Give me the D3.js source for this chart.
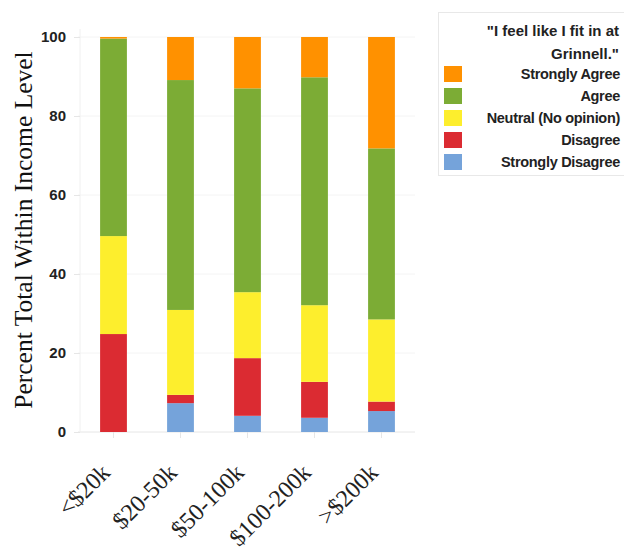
<!DOCTYPE html>
<html>
<head>
<meta charset="utf-8">
<script src="https://cdn.jsdelivr.net/npm/d3@7"></script>
<style>
  body { margin: 0; background: #fff; }
  .tick text { font-family: "Liberation Sans", Arial, sans-serif; font-weight: bold; font-size: 15px; fill: #222; }
  .xlab { font-family: "Liberation Serif", "Times New Roman", serif; font-size: 24px; fill: #222; }
  .ylab { font-family: "Liberation Serif", "Times New Roman", serif; font-size: 25.5px; fill: #111; }
  .leg { font-family: "Liberation Sans", Arial, sans-serif; font-weight: bold; font-size: 14.5px; fill: #222; letter-spacing: -0.3px; }
  .legtitle { font-family: "Liberation Sans", Arial, sans-serif; font-weight: bold; font-size: 15px; fill: #222; }
</style>
</head>
<body>
<svg id="chart" width="624" height="553"></svg>
<script>
const incomes = ['<$20k', '$20-50k', '$50-100k', '$100-200k', '>$200k']
const responses = ['Strongly Disagree', 'Disagree', 'Neutral (No opinion)', 'Agree', 'Strongly Agree']
const colors = ['#75a3da', '#db2b32', '#fdee2d', '#7cac35', '#ff9100']
const stronglyDisagree = [0, 7.3, 4.1, 3.6, 5.3]
const disagree = [24.8, 2.1, 14.6, 9.1, 2.4]
const neutral = [24.8, 21.5, 16.7, 19.4, 20.8]
const agree = [50.0, 58.2, 51.6, 57.7, 43.3]
const stronglyAgree = [0.4, 10.9, 13.0, 10.2, 28.2]
const yTicks = [0, 20, 40, 60, 80, 100]
const legendTitle = ['"I feel like I fit in at', 'Grinnell."']

const series = [stronglyDisagree, disagree, neutral, agree, stronglyAgree]
const rows = incomes.map((inc, i) => {
  let r = { income: inc }
  responses.forEach((k, j) => { r[k] = series[j][i] })
  return r
})
const stacked = d3.stack().keys(responses)(rows)

let svg = d3.select('#chart')
let mLeft = 80, mRight = 415, mTop = 37, mBottom = 432

let x = d3.scaleBand().domain(incomes).range([mLeft, mRight])
  .paddingInner(0.6).paddingOuter(0.3)
let y = d3.scaleLinear().domain([0, 100]).range([mBottom, mTop])

// grid
svg.append('g')
  .selectAll('line')
  .data(yTicks)
  .enter()
  .append('line')
  .attr('x1', mLeft - 2)
  .attr('x2', mRight)
  .attr('y1', d => y(d))
  .attr('y2', d => y(d))
  .attr('stroke', d => d === 0 ? '#e6e6e6' : '#f4f4f4')

svg.append('line')
  .attr('x1', mLeft).attr('x2', mLeft)
  .attr('y1', mTop - 8).attr('y2', mBottom)
  .attr('stroke', '#f0f0f0')

// bars
svg.append('g')
  .selectAll('g')
  .data(stacked)
  .enter()
  .append('g')
  .attr('fill', (d, i) => colors[i])
  .selectAll('rect')
  .data(d => d)
  .enter()
  .append('rect')
  .attr('x', d => x(d.data.income))
  .attr('y', d => y(d[1]))
  .attr('width', x.bandwidth())
  .attr('height', d => y(d[0]) - y(d[1]))

// y axis
let yAxis = svg.append('g')
  .attr('transform', `translate(${mLeft},0)`)
  .call(d3.axisLeft(y).tickValues(yTicks).tickSize(6).tickPadding(8))
yAxis.select('.domain').remove()
yAxis.selectAll('.tick line').attr('stroke', '#e6e6e6')

// x axis ticks
let xAxis = svg.append('g')
  .attr('transform', `translate(0,${mBottom})`)
  .call(d3.axisBottom(x).tickSize(6).tickFormat(''))
xAxis.select('.domain').remove()
xAxis.selectAll('.tick line').attr('stroke', '#e6e6e6')

svg.append('g')
  .selectAll('text')
  .data(incomes)
  .enter()
  .append('text')
  .attr('class', 'xlab')
  .attr('text-anchor', 'end')
  .attr('transform', d => `translate(${x(d) + x.bandwidth() / 2 - 2},${mBottom + 42}) rotate(-45)`)
  .text(d => d)

svg.append('text')
  .attr('class', 'ylab')
  .attr('text-anchor', 'middle')
  .attr('transform', `translate(32,230) rotate(-90)`)
  .text('Percent Total Within Income Level')

// legend
let legend = svg.append('g')
legend.append('rect')
  .attr('x', 438.5).attr('y', 12.5)
  .attr('width', 190).attr('height', 163)
  .attr('fill', 'none')
  .attr('stroke', '#e8e8e8')

legend.append('g')
  .selectAll('text')
  .data(legendTitle)
  .enter()
  .append('text')
  .attr('class', 'legtitle')
  .attr('text-anchor', 'end')
  .attr('x', 619)
  .attr('y', (d, i) => 36 + i * 23)
  .text(d => d)

let legOrder = responses.slice().reverse()
let items = legend.append('g')
  .selectAll('g')
  .data(legOrder)
  .enter()
  .append('g')
  .attr('transform', (d, i) => `translate(0,${66 + i * 22})`)
items.append('rect')
  .attr('x', 444).attr('y', 0)
  .attr('width', 18).attr('height', 16)
  .attr('fill', d => colors[responses.indexOf(d)])
items.append('text')
  .attr('class', 'leg')
  .attr('text-anchor', 'end')
  .attr('x', 620).attr('y', 13)
  .text(d => d)
</script>
</body>
</html>
